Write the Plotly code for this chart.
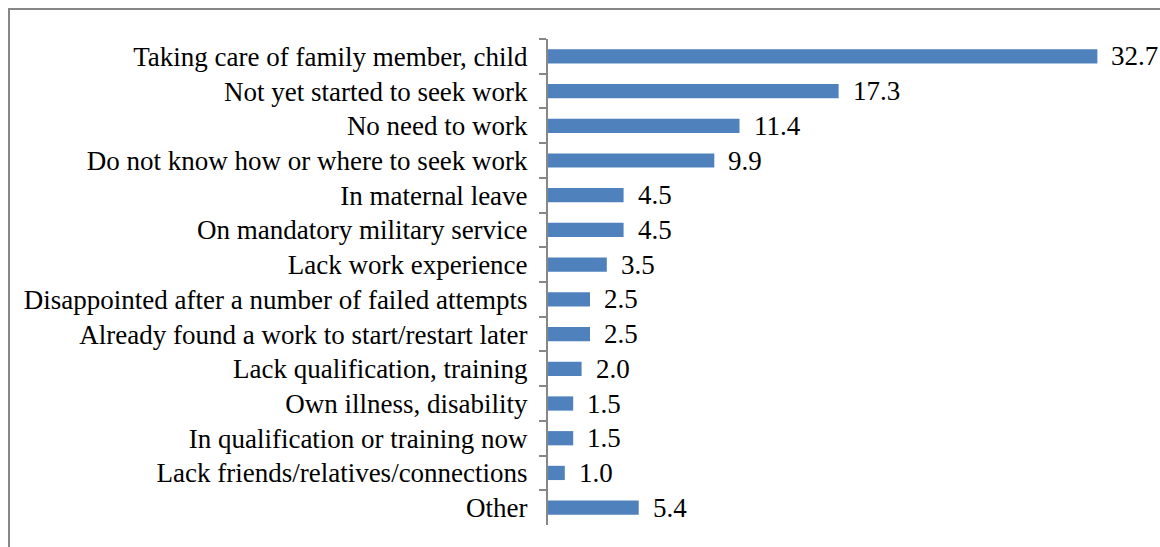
import plotly.graph_objects as go

categories = [
    "Taking care of family member, child",
    "Not yet started to seek work",
    "No need to work",
    "Do not know how or where to seek work",
    "In maternal leave",
    "On mandatory military service",
    "Lack work experience",
    "Disappointed after a number of failed attempts",
    "Already found a work to start/restart later",
    "Lack qualification, training",
    "Own illness, disability",
    "In qualification or training now",
    "Lack friends/relatives/connections",
    "Other",
]
values = [32.7, 17.3, 11.4, 9.9, 4.5, 4.5, 3.5, 2.5, 2.5, 2.0, 1.5, 1.5, 1.0, 5.4]

W, H = 1160, 547
L, R, T, B = 548, 24, 39, 22
pw, ph = W - L - R, H - T - B

FONT = "Liberation Serif, Times New Roman, serif"
FS = 27

fig = go.Figure(
    go.Bar(
        x=values,
        y=categories,
        orientation="h",
        marker=dict(color="#4F81BD", line=dict(width=0)),
        width=0.41,
        hoverinfo="x+y",
    )
)

# value labels to the right of each bar
for cat, v in zip(categories, values):
    fig.add_annotation(
        x=v, y=cat, xref="x", yref="y",
        text=f"{v:.1f}",
        showarrow=False,
        xanchor="left", yanchor="middle",
        xshift=12,
        font=dict(family=FONT, size=FS, color="#000000"),
    )

# frame around the chart area
fig.add_shape(
    type="rect",
    xref="paper", yref="paper",
    x0=(9 - L) / pw, x1=(W + 10 - L) / pw,
    y0=(-10 - B) / ph, y1=(H - 9 - B) / ph,
    line=dict(color="#878787", width=2),
    fillcolor="rgba(0,0,0,0)",
    layer="below",
)

fig.update_layout(
    width=W, height=H,
    margin=dict(l=L, r=R, t=T, b=B, pad=0),
    paper_bgcolor="white",
    plot_bgcolor="white",
    showlegend=False,
    font=dict(family=FONT, size=FS, color="#000000"),
    xaxis=dict(
        range=[0, 35],
        visible=False,
        showgrid=False,
        zeroline=False,
    ),
    yaxis=dict(
        autorange="reversed",
        showline=True,
        linecolor="#878787",
        linewidth=2,
        ticks="outside",
        ticklen=7,
        tickcolor="#878787",
        tickwidth=1.5,
        tickson="boundaries",
        ticklabelstandoff=13,
        showgrid=False,
        tickfont=dict(family=FONT, size=FS, color="#000000"),
    ),
)

fig.write_html("out.html")
